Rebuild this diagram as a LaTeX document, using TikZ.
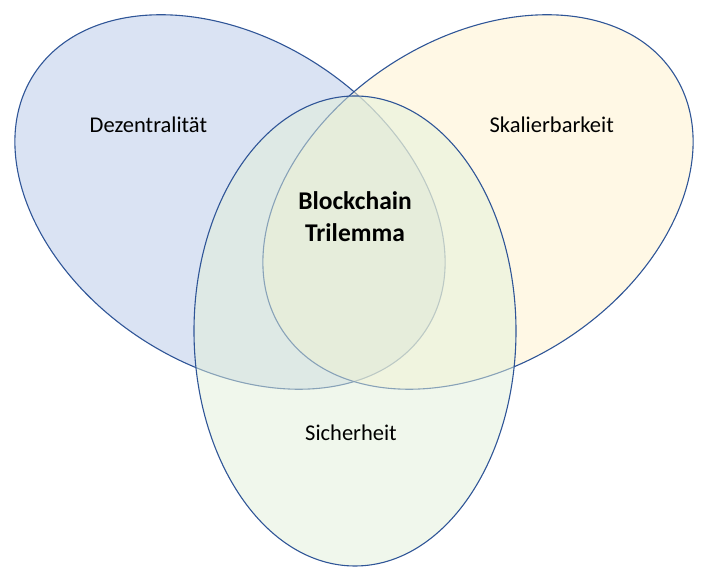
\documentclass[tikz,border=0pt]{standalone}
\usepackage{fontspec}
\setmainfont{Carlito}
\definecolor{edge}{HTML}{2F5597}
\definecolor{bluefill}{HTML}{DAE3F3}
\definecolor{yellowfill}{HTML}{FFF2CC}
\definecolor{greenfill}{HTML}{E2F0D9}
\tikzset{
  setbox/.style={draw=edge, line width=1.1pt},
  lbl/.style={anchor=base, inner sep=0pt, font=\fontsize{22.5}{27}\selectfont},
  title/.style={anchor=base, inner sep=0pt, font=\bfseries\fontsize{25.5}{31}\selectfont}
}
\begin{document}
\begin{tikzpicture}[x=1pt,y=1pt]
\useasboundingbox (0,0) rectangle (702,572);
% Dezentralitaet (blue)
\draw[setbox, fill=bluefill, rotate around={-33.3:(230,370)}] (230,370) ellipse [x radius=234, y radius=163];
% Skalierbarkeit (yellow)
\draw[setbox, fill=yellowfill, fill opacity=0.5, rotate around={33.3:(478,370)}] (478,370) ellipse [x radius=234, y radius=163];
% Sicherheit (green)
\draw[setbox, fill=greenfill, fill opacity=0.5] (355,241) ellipse [x radius=161, y radius=235];
\node[lbl] (dez) at (148.4,439) {Dezentralität};
\node[lbl] (ska) at (551.7,439) {Skalierbarkeit};
\node[lbl] (sic) at (351,131) {Sicherheit};
\node[title] (bc) at (355,362.7) {Blockchain};
\node[title] (tri) at (355,330.3) {Trilemma};
\end{tikzpicture}
\end{document}
